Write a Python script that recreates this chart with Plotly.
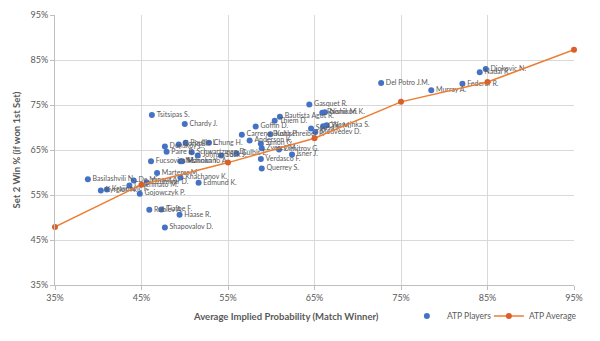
import plotly.graph_objects as go

# Player averages: implied match-win probability vs set-2 win % after winning set 1
players = [
    "Djokovic N.", "Nadal R.", "Federer R.", "Murray A.", "Del Potro J.M.",
    "Gasquet R.", "Raonic M.", "Nishikori K.", "Bautista Agut R.", "Thiem D.",
    "Goffin D.", "Wawrinka S.", "Cilic M.", "Sousa J.", "Medvedev D.",
    "Carreno Busta P.", "Kohlschreiber P.", "Anderson K.", "Simon G.", "Zverev M.",
    "Dimitrov G.", "Isner J.", "Verdasco F.", "Querrey S.", "Tsitsipas S.",
    "Chardy J.", "Chung H.", "Pouille L.", "Coric B.", "Donskoy E.",
    "Paire B.", "Schwartzman D.", "Johnson S.", "Sock J.", "Gulbis E.",
    "Fucsovics M.", "Nishioka Y.", "Mannarino A.", "Marterer M.", "Khachanov K.",
    "Edmund K.", "De Minaur A.", "Dzumhur D.", "Basilashvili N.", "Cecchinato M.",
    "Kyrgios N.", "Krajinovic F.", "Gojowczyk P.", "Rublev A.", "Tiafoe F.",
    "Haase R.", "Shapovalov D.",
]
implied_prob = [
    84.8, 84.1, 82.1, 78.5, 72.7,
    64.4, 65.9, 66.2, 61.0, 60.4,
    58.2, 66.4, 66.0, 64.6, 65.1,
    56.6, 59.9, 57.5, 58.8, 58.9,
    60.9, 62.4, 58.8, 58.9, 46.2,
    50.0, 52.8, 50.1, 49.3, 47.7,
    47.9, 50.8, 51.5, 54.2, 56.0,
    46.1, 49.5, 49.7, 46.8, 49.5,
    51.6, 44.1, 45.6, 38.8, 43.6,
    40.3, 41.0, 44.8, 45.9, 47.3,
    49.4, 47.7,
]
set2_win = [
    83.0, 82.3, 79.7, 78.3, 79.9,
    75.1, 73.3, 73.4, 72.4, 71.5,
    70.2, 70.5, 70.3, 69.8, 69.0,
    68.4, 68.5, 67.1, 66.4, 65.4,
    65.1, 64.0, 63.0, 60.9, 72.8,
    70.8, 66.6, 66.6, 66.2, 65.8,
    64.6, 64.5, 63.8, 63.8, 64.2,
    62.5, 62.5, 62.5, 59.9, 58.9,
    57.7, 58.2, 57.8, 58.5, 57.1,
    56.0, 56.2, 55.3, 51.7, 51.8,
    50.6, 47.8,
]

# Tour-wide average per implied-probability bucket
avg_prob = [35, 45, 55, 65, 75, 85, 95]
avg_set2 = [47.9, 57.3, 62.2, 67.6, 75.7, 80.1, 87.3]

tick_vals = [35, 45, 55, 65, 75, 85, 95]
tick_text = ["35%", "45%", "55%", "65%", "75%", "85%", "95%"]

FONT = "Lato, 'Liberation Sans', sans-serif"
GREY = "#595959"
GRID = "#D9D9D9"
BLUE = "#4472C4"
ORANGE = "#ED7D31"

fig = go.Figure()

fig.add_trace(go.Scatter(
    x=implied_prob, y=set2_win, mode="markers+text", name="ATP Players",
    text=players, textposition="middle right",
    textfont=dict(family=FONT, size=7, color=GREY),
    marker=dict(color=BLUE, size=6),
    cliponaxis=False, legend="legend",
))

fig.add_trace(go.Scatter(
    x=avg_prob, y=avg_set2, mode="lines+markers", name="ATP Average",
    line=dict(color=ORANGE, width=1.5),
    marker=dict(color="#D9602A", size=6),
    cliponaxis=False, legend="legend2",
))

axis_common = dict(
    range=[35, 95], tickvals=tick_vals, ticktext=tick_text,
    showgrid=True, gridcolor=GRID, gridwidth=1,
    showline=True, linecolor="#BFBFBF", linewidth=1,
    ticks="outside", ticklen=4, tickcolor="#BFBFBF",
    tickfont=dict(family=FONT, size=9, color=GREY),
    zeroline=False,
)

legend_common = dict(
    orientation="h", y=-0.115, xanchor="left", yanchor="middle",
    font=dict(family=FONT, size=8.5, color=GREY),
    bgcolor="rgba(0,0,0,0)", itemwidth=30,
)

fig.update_layout(
    width=600, height=341,
    margin=dict(l=55, r=26, t=9, b=56),
    paper_bgcolor="white", plot_bgcolor="white",
    xaxis=dict(**axis_common),
    yaxis=dict(**axis_common,
               title=dict(text="<b>Set 2 Win % (if won 1st Set)</b>",
                          font=dict(family=FONT, size=9.5, color=GREY),
                          standoff=8)),
    showlegend=True,
    legend=dict(x=0.678, **legend_common),
    legend2=dict(x=0.836, **legend_common),
    annotations=[dict(
        text="<b>Average Implied Probability (Match Winner)</b>",
        xref="paper", yref="paper", x=0.445, y=-0.115,
        xanchor="center", yanchor="middle", showarrow=False,
        font=dict(family=FONT, size=9.5, color=GREY),
    )],
)

fig.write_html("out.html")
